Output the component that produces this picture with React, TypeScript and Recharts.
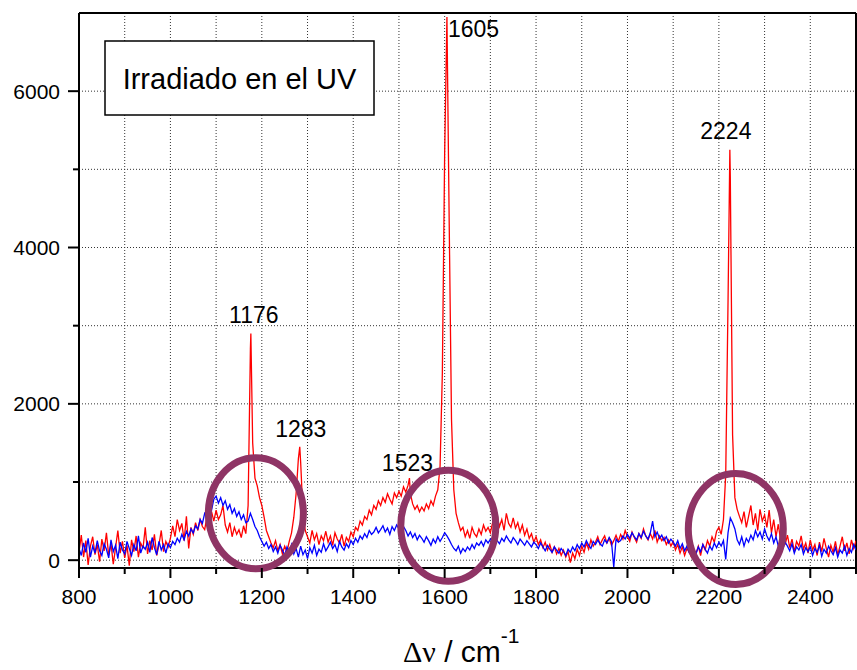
import React from 'react';
import { LineChart, Line, XAxis, YAxis, CartesianGrid, ReferenceLine, ReferenceDot } from 'recharts';

// Raman spectra sampled every 5 cm-1 from 800 to 2500
const WAVENUMBER_START = 800;
const WAVENUMBER_STEP = 5;

// irradiated sample (red trace)
const irradiatedCounts = [
  100, 320, 40, 250, -60, 180, 300, 70, 200, -20,
  270, 120, 350, 60, 210, -50, 160, 380, 90, 240,
  30, 190, -70, 260, 110, 310, 40, 220, 150, 420,
  80, 250, 130, 330, 60, 200, 380, 110, 240, 170,
  280, 440, 300, 520, 380, 470, 250, 560, 150, 420,
  330, 480, 380, 520, 430, 390, 560, 460, 620, 500,
  640, 520, 580, 700, 450, 360, 480, 300, 420, 330,
  390, 290, 440, 340, 700, 2700, 1500, 1050, 950, 800,
  700, 550, 380, 300, 220, 160, 250, 120, 200, 80,
  180, 110, 240, 350, 550, 850, 1300, 1250, 600, 380,
  300, 220, 380, 260, 340, 200, 310, 250, 370, 230,
  310, 190, 350, 270, 220, 330, 180, 290, 240, 360,
  300, 420, 380, 500, 450, 560, 520, 640, 580, 700,
  650, 760, 700, 800, 740, 850, 780, 720, 860, 800,
  880, 820, 940, 870, 960, 850, 720, 650, 700, 620,
  680, 630, 720, 660, 760, 700, 820, 900, 1200, 2400,
  5200, 6950, 4300, 1800, 900, 600, 480, 380, 420, 300,
  380, 280, 420, 340, 300, 400, 330, 450, 370, 420,
  350, 480, 400, 560, 430, 520, 380, 600, 470, 420,
  540, 410, 480, 360, 450, 320, 400, 280, 340, 230,
  300, 200, 260, 160, 230, 130, 200, 100, 170, 80,
  150, 60, 130, 40, 110, -30, 90, 20, 140, 60,
  180, 100, 220, 140, 260, 180, 230, 300, 200, 260,
  310, 220, 280, 190, 250, 320, 240, 330, 270, 380,
  300, 240, 360, 290, 230, 340, 280, 400, 310, 260,
  340, 270, 380, 230, 310, 250, 290, 200, 260, 180,
  240, 130, 200, 90, 170, 60, 150, 100, 40, 130,
  90, 180, 60, 200, 130, 250, 180, 300, 230, 370,
  420, 330, 520, 1100, 3300, 4900, 1600, 800, 650, 560,
  480, 620, 420, 560, 700, 450, 600, 380, 650, 500,
  580, 420, 640, 350, 520, 300, 460, 250, 380, 200,
  320, 160, 270, 110, 240, 180, 310, 140, 220, 90,
  260, 130, 200, 60, 230, 110, 280, 150, 40, 190,
  100, 240, 70, 180, 300, 120, 220, 80, 260, 150,
  250,
];

// non-irradiated sample (blue trace)
const blankCounts = [
  150, 60, 220, 100, 280, 40, 180, 90, 250, 120,
  60, 210, 140, 30, 260, 110, 190, 20, 230, 130,
  80, 240, 150, 60, 200, 120, 310, 90, 180, 140,
  230, 100, 290, 160, 70, 240, 130, 200, 90, 210,
  160, 240, 200, 280, 230, 330, 260, 370, 310, 400,
  350, 440, 400, 520, 470, 600, 560, 690, 640, 780,
  820, 730, 800, 700, 760, 650, 710, 600, 660, 560,
  620, 520, 580, 480, 500, 600, 520, 430, 380, 300,
  240, 180, 230, 150, 200, 110, 170, 90, 190, 130,
  60, 170, 100, 200, 80, 150, 40, 180, 70, 130,
  20, 160, 90, 190, 60, 140, 100, 210, 120, 170,
  230, 150, 200, 110, 240, 170, 130, 210, 160, 250,
  200, 280, 230, 310, 270, 340, 290, 380, 330, 360,
  420, 350, 390, 440, 360, 410, 330, 430, 380, 450,
  400, 350, 430, 380, 310, 360, 290, 340, 260, 320,
  280, 230, 300, 250, 190, 270, 220, 300, 240, 290,
  350, 310, 260, 200, 150, 120, 180, 90, 150, 110,
  170, 130, 200, 150, 220, 190, 240, 180, 260, 220,
  270, 230, 300, 250, 210, 280, 240, 310, 260, 220,
  290, 250, 200, 270, 230, 190, 250, 210, 170, 230,
  200, 150, 220, 170, 120, 190, 140, 100, 170, 130,
  90, 150, 110, 60, 140, 100, 170, 120, 200, 150,
  220, 170, 250, 190, 150, 240, 200, 260, 210, 180,
  260, 220, 290, 240, -90, 270, 230, 250, 310, 270,
  330, 280, 350, 300, 260, 340, 290, 370, 310, 270,
  350, 500, 300, 360, 280, 320, 250, 300, 220, 270,
  230, 180, 250, 150, 210, 120, 180, 100, 160, 130,
  80, 170, 110, 200, 140, 90, 180, 130, 220, 160,
  230, 180, 250, 10, 350, 540, 480, 400, 260, 200,
  300, 180, 280, 230, 320, 260, 380, 300, 360, 270,
  400, 310, 250, 340, 220, 300, 180, 260, 150, 230,
  180, 120, 210, 90, 170, 130, 200, 80, 160, 110,
  170, 60, 150, 100, 190, 50, 140, 90, 180, 120,
  70, 160, 40, 130, 90, 180, 60, 150, 100, 200,
  130,
];

// assigned bands of the irradiated spectrum
const peakWavenumbers = [1176, 1283, 1523, 1605, 2224];
const peakCounts = [2900, 1450, 1050, 6950, 5250];

// regions highlighted with rings
const ringWavenumbers = [1187, 1608, 2237];
const ringCounts = [600, 440, 400];

const xTicks = [800, 900, 1000, 1100, 1200, 1300, 1400, 1500, 1600, 1700, 1800, 1900, 2000, 2100, 2200, 2300, 2400, 2500];
const yTicks = [0, 1000, 2000, 3000, 4000, 5000, 6000];

const FONT = '"Liberation Sans", Arial, Helvetica, sans-serif';

// label placement relative to each peak top (dx, dy, anchor)
const peakLabelStyle: [number, number, 'middle' | 'start'][] = [
  [3, -10, 'middle'],
  [1, -10, 'middle'],
  [-2, -7, 'middle'],
  [1, 20, 'start'],
  [-4, -11, 'middle'],
];

const toSeries = (counts: number[]) =>
  counts.map((y, i) => ({ x: WAVENUMBER_START + i * WAVENUMBER_STEP, y }));

const redData = [
  ...toSeries(irradiatedCounts).filter((p) => !peakWavenumbers.includes(p.x)),
  ...peakWavenumbers.map((x, i) => ({ x, y: peakCounts[i] })),
].sort((a, b) => a.x - b.x);

const blueData = toSeries(blankCounts);

const XTick = (props: any) => {
  const { x, y, payload } = props;
  const major = payload.value % 200 === 0 && payload.value < 2500;
  return (
    <g>
      <line x1={x} y1={y} x2={x} y2={y + (major ? 10 : 6)} stroke="#000" strokeWidth={2} />
      {major && (
        <text x={x} y={y + 36} textAnchor="middle" fontSize={21} fontFamily={FONT} fill="#000">
          {payload.value}
        </text>
      )}
    </g>
  );
};

const YTick = (props: any) => {
  const { x, y, payload } = props;
  const major = payload.value % 2000 === 0;
  return (
    <g>
      <line x1={x - (major ? 11 : 6)} y1={y} x2={x} y2={y} stroke="#000" strokeWidth={2} />
      {major && (
        <text x={x - 19} y={y + 7.5} textAnchor="end" fontSize={21} fontFamily={FONT} fill="#000">
          {payload.value}
        </text>
      )}
    </g>
  );
};

export default function App() {
  return (
    <div style={{ position: 'absolute', left: 0, top: 0, width: 857, height: 670, background: '#fff' }}>
      <LineChart width={857} height={670} data={redData} margin={{ top: 13, right: 1, bottom: 0, left: 0 }}>
        <CartesianGrid stroke="#333" strokeDasharray="1 2" strokeWidth={1} />
        <XAxis
          type="number"
          dataKey="x"
          domain={[800, 2500]}
          ticks={xTicks}
          interval={0}
          allowDataOverflow
          height={102}
          tickSize={0}
          tickMargin={0}
          tickLine={false}
          axisLine={{ stroke: '#000', strokeWidth: 2 }}
          tick={<XTick />}
        />
        <YAxis
          type="number"
          domain={[-100, 7000]}
          ticks={yTicks}
          interval={0}
          allowDataOverflow
          width={79}
          tickSize={0}
          tickMargin={0}
          tickLine={false}
          axisLine={{ stroke: '#000', strokeWidth: 2 }}
          tick={<YTick />}
        />
        <ReferenceLine y={7000} stroke="#000" strokeWidth={2} />
        <ReferenceLine x={2500} stroke="#000" strokeWidth={2} />
        <Line data={redData} dataKey="y" type="linear" stroke="#ff0000" strokeWidth={1.3} dot={false} isAnimationActive={false} />
        <Line data={blueData} dataKey="y" type="linear" stroke="#0000ff" strokeWidth={1.3} dot={false} isAnimationActive={false} />
        {ringWavenumbers.map((x, i) => (
          <ReferenceDot
            key={`ring-${x}`}
            x={x}
            y={ringCounts[i]}
            r={0}
            shape={(p: any) => (
              <ellipse cx={p.cx} cy={p.cy} rx={47.5} ry={55.5} fill="none" stroke="#8f3465" strokeWidth={7} />
            )}
          />
        ))}
        {peakWavenumbers.map((x, i) => {
          const [dx, dy, anchor] = peakLabelStyle[i];
          return (
            <ReferenceDot
              key={`peak-${x}`}
              x={x}
              y={peakCounts[i]}
              r={0}
              shape={(p: any) => (
                <text x={p.cx + dx} y={p.cy + dy} textAnchor={anchor} fontSize={23} fontFamily={FONT} fill="#000">
                  {x}
                </text>
              )}
            />
          );
        })}
      </LineChart>
      <svg
        width={857}
        height={670}
        style={{ position: 'absolute', left: 0, top: 0, pointerEvents: 'none' }}
      >
        <rect x={105} y={41} width={269} height={74} fill="#fff" stroke="#000" strokeWidth={1.5} />
        <text x={239.5} y={89} textAnchor="middle" fontSize={29} fontFamily={FONT} fill="#000">
          Irradiado en el UV
        </text>
        <text x={403} y={662} fontSize={30} fontFamily={FONT} fill="#000">
          <tspan fontFamily={'"Liberation Serif", "Times New Roman", serif'}>Δν</tspan>
          <tspan> / cm</tspan>
          <tspan fontSize={21} dy={-19}>-1</tspan>
        </text>
      </svg>
    </div>
  );
}
